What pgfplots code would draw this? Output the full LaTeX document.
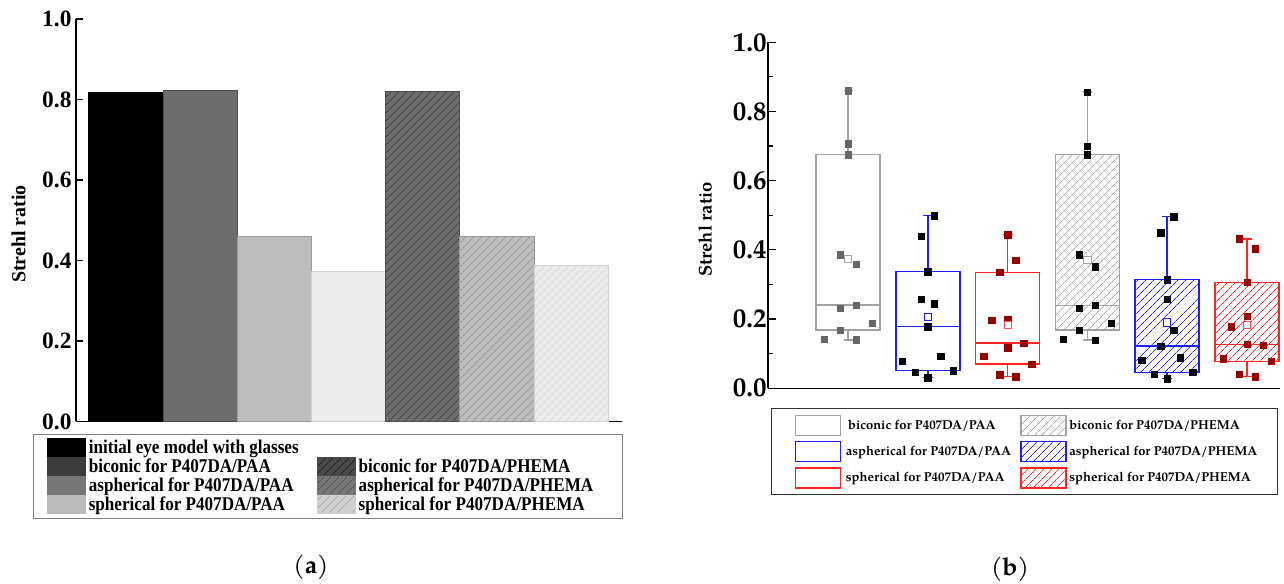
\documentclass[border=0pt]{standalone}
\usepackage{pgfplots}
\pgfplotsset{compat=1.18}
\usetikzlibrary{patterns.meta}
\usepackage{fontspec}
\setmainfont{Liberation Serif}
\newfontfamily\tnr[FakeStretch=0.88]{Liberation Serif}
\newfontfamily\pal{texgyrepagella}[Extension=.otf, UprightFont=*-regular, BoldFont=*-bold, ItalicFont=*-italic, BoldItalicFont=*-bolditalic]
% panel a colours
\definecolor{a2}{HTML}{6D6D6D}\definecolor{a2e}{HTML}{4D4D4D}
\definecolor{a3}{HTML}{BDBDBD}\definecolor{a3e}{HTML}{9A9A9A}
\definecolor{a4}{HTML}{ECECEC}\definecolor{a4e}{HTML}{D2D2D2}
\definecolor{h5}{HTML}{3A3A3A}\definecolor{h6}{HTML}{8F8F8F}\definecolor{h7}{HTML}{CFCFCF}
\definecolor{l2}{HTML}{3C3C3C}\definecolor{l3}{HTML}{777777}\definecolor{l4}{HTML}{BBBBBB}
\definecolor{l5}{HTML}{4A4A4A}\definecolor{l5h}{HTML}{1E1E1E}
\definecolor{l6h}{HTML}{4D4D4D}\definecolor{l7}{HTML}{D0D0D0}\definecolor{l7h}{HTML}{A8A8A8}
% panel b colours
\definecolor{bgray}{HTML}{A3A3A3}
\definecolor{bblue}{HTML}{1E1EFF}
\definecolor{bred}{HTML}{FF2424}
\definecolor{pred}{HTML}{990000}
\definecolor{pgray}{HTML}{666666}
\tikzset{hatchA/.style={pattern={Lines[angle=45,distance=6bp,line width=0.8bp]}},
         hatchB/.style={pattern={Lines[angle=45,distance=6bp,line width=0.7bp]}}}
% box: #1 colour, #2 extra style, #3 centre, #4 lower whisker, #5 Q1, #6 median, #7 Q3, #8 upper whisker, #9 half cap
\newcommand\boxplt[9]{%
  \addplot[draw=#1, line width=1.5bp, #2, forget plot] coordinates {(#3-32,#5) (#3+32,#5) (#3+32,#7) (#3-32,#7)} -- cycle;
  \addplot[draw=#1, line width=1.4bp, forget plot] coordinates {(#3-32,#6) (#3+32,#6)};
  \addplot[draw=#1, line width=1.5bp, forget plot] coordinates {(#3,#7) (#3,#8)};
  \addplot[draw=#1, line width=1.5bp, forget plot] coordinates {(#3-#9,#8) (#3+#9,#8)};
  \addplot[draw=#1, line width=1.5bp, forget plot] coordinates {(#3,#5) (#3,#4)};
  \addplot[draw=#1, line width=1.5bp, forget plot] coordinates {(#3-#9,#4) (#3+#9,#4)};
}
\begin{document}
\begin{tikzpicture}
\useasboundingbox (0,0) rectangle (1284bp,584bp);
% ---------------- panel (a) ----------------
\begin{axis}[
  at={(76bp,162.5bp)}, anchor=south west,
  scale only axis, width=546bp, height=402.5bp,
  xmin=0, xmax=546, ymin=0, ymax=1,
  axis x line=bottom, axis y line=left,
  axis line style={-, line width=1.3bp, black},
  xtick=\empty,
  ytick={0,0.2,0.4,0.6,0.8,1.0},
  yticklabels={0.0,0.2,0.4,0.6,0.8,1.0},
  tick align=inside, major tick length=7bp,
  tick style={line width=1.3bp, black},
  tick label style={font=\bfseries\fontsize{23.5}{23.5}\selectfont},
  yticklabel style={xshift=-1bp},
  ylabel={Strehl ratio},
  ylabel style={at={(axis description cs:-0.1053,0.466)}, anchor=center, font=\bfseries\fontsize{20}{20}\selectfont},
  clip=false,
  legend columns=2,
  legend cell align=left,
  legend image code/.code={\draw[#1] (0bp,-9bp) rectangle (38bp,9bp);},
  legend style={at={(axis description cs:-0.0788,-0.031)}, anchor=north west,
    draw=gray, line width=0.9bp, inner xsep=13.5bp, inner ysep=4bp, row sep=0bp,
    font=\tnr\bfseries\fontsize{19.5}{21}\selectfont,
    nodes={inner sep=1.5bp},
    /tikz/column 1/.style={column sep=1.5bp},
    /tikz/column 3/.style={column sep=1.5bp}},
]
\addplot[ybar, bar shift=0pt, bar width=74.2, fill=black, draw=black, line width=0.6bp, forget plot] coordinates {(49.7,0.818)};
\addplot[ybar, bar shift=0pt, bar width=74.2, fill=a2, draw=a2e, line width=0.6bp, forget plot] coordinates {(123.9,0.824)};
\addplot[ybar, bar shift=0pt, bar width=74.2, fill=a3, draw=a3e, line width=0.6bp, forget plot] coordinates {(198.1,0.460)};
\addplot[ybar, bar shift=0pt, bar width=74.2, fill=a4, draw=a4e, line width=0.6bp, forget plot] coordinates {(272.3,0.374)};
\addplot[ybar, bar shift=0pt, bar width=74.2, fill=a2, draw=a2e, line width=0.6bp, forget plot, postaction={hatchA, pattern color=h5}] coordinates {(346.5,0.820)};
\addplot[ybar, bar shift=0pt, bar width=74.2, fill=a3, draw=a3e, line width=0.6bp, forget plot, postaction={hatchA, pattern color=h6}] coordinates {(420.7,0.459)};
\addplot[ybar, bar shift=0pt, bar width=74.2, fill=a4, draw=a4e, line width=0.6bp, forget plot, postaction={hatchA, pattern color=h7}] coordinates {(494.9,0.387)};
\addlegendimage{fill=black, draw=black}
\addlegendentry{\makebox[226.5bp][l]{initial eye model with glasses}}
\addlegendimage{empty legend}
\addlegendentry{}
\addlegendimage{fill=l2, draw=l2}
\addlegendentry{\makebox[226.5bp][l]{biconic for P407DA/PAA}}
\addlegendimage{fill=l5, draw=l5, postaction={hatchA, pattern color=l5h}}
\addlegendentry{\makebox[248.5bp][l]{biconic for P407DA/PHEMA}}
\addlegendimage{fill=l3, draw=l3}
\addlegendentry{\makebox[226.5bp][l]{aspherical for P407DA/PAA}}
\addlegendimage{fill=l3, draw=l3, postaction={hatchA, pattern color=l6h}}
\addlegendentry{\makebox[248.5bp][l]{aspherical for P407DA/PHEMA}}
\addlegendimage{fill=l4, draw=l4}
\addlegendentry{\makebox[226.5bp][l]{spherical for P407DA/PAA}}
\addlegendimage{fill=l7, draw=l7, postaction={hatchA, pattern color=l7h}}
\addlegendentry{\makebox[248.5bp][l]{spherical for P407DA/PHEMA}}
\end{axis}
% ---------------- panel (b) ----------------
\begin{axis}[
  at={(768bp,195.7bp)}, anchor=south west,
  scale only axis, width=512bp, height=346bp,
  xmin=0, xmax=512, ymin=0, ymax=1,
  axis x line=bottom, axis y line=left,
  axis line style={-, line width=1.3bp, black},
  xtick=\empty,
  ytick={0,0.2,0.4,0.6,0.8,1.0},
  yticklabels={0.0,0.2,0.4,0.6,0.8,1.0},
  minor ytick={0.1,0.3,0.5,0.7,0.9},
  tick align=inside, major tick length=8bp, minor tick length=4.5bp,
  tick style={line width=1.2bp, black},
  tick label style={font=\pal\bfseries\fontsize{27}{27}\selectfont},
  yticklabel style={xshift=2bp},
  ylabel={Strehl ratio},
  ylabel style={at={(axis description cs:-0.123,0.459)}, anchor=center, font=\pal\bfseries\fontsize{18.5}{18.5}\selectfont},
  clip=false,
  legend columns=2,
  legend cell align=left,
  legend image code/.code={\draw[#1] (0bp,-10bp) rectangle (45bp,10bp);},
  legend style={at={(axis description cs:0.00586,-0.058)}, anchor=north west,
    draw=black!80, line width=0.9bp, inner xsep=23.5bp, inner ysep=5.7bp, row sep=4.8bp,
    font=\pal\bfseries\fontsize{13}{15}\selectfont,
    nodes={inner sep=1.5bp},
    /tikz/column 1/.style={column sep=3bp},
    /tikz/column 3/.style={column sep=1bp}},
]
% boxes: colour, style, centre, lower whisker, Q1, median, Q3, upper whisker, half cap
\boxplt{bgray}{}{80}{0.140}{0.168}{0.241}{0.675}{0.860}{4.5}
\boxplt{bblue}{}{159.8}{0.031}{0.051}{0.178}{0.337}{0.499}{5}
\boxplt{bred}{}{239.6}{0.034}{0.070}{0.131}{0.335}{0.444}{5}
\boxplt{bgray}{hatchB, pattern color=bgray}{319.4}{0.139}{0.168}{0.240}{0.675}{0.856}{4.5}
\boxplt{bblue}{hatchB, pattern color=bblue}{399.2}{0.028}{0.046}{0.122}{0.314}{0.496}{5}
\boxplt{bred}{hatchB, pattern color=bred}{479}{0.034}{0.078}{0.127}{0.306}{0.431}{5}
% data points
\addplot[only marks, mark=square*, mark size=3.2bp, color=pgray, forget plot] coordinates {
 (80,0.860) (80,0.707) (80,0.675) (72,0.386) (88,0.358) (72,0.232) (88,0.241) (104,0.188) (72,0.168) (56,0.142) (88,0.140)};
\addplot[only marks, mark=square*, mark size=3.2bp, color=black, forget plot] coordinates {
 (166.2,0.499) (153.4,0.439) (159.8,0.337) (153.4,0.258) (166.2,0.245) (159.8,0.178) (172.6,0.092) (134.2,0.079) (185.4,0.051) (147,0.046) (159.8,0.031)};
\addplot[only marks, mark=square*, mark size=3.2bp, color=pred, forget plot] coordinates {
 (239.6,0.444) (247.6,0.371) (231.6,0.335) (223.6,0.197) (239.6,0.200) (255.6,0.131) (239.6,0.117) (215.6,0.092) (263.6,0.070) (231.6,0.039) (247.6,0.034)};
\addplot[only marks, mark=square*, mark size=3.2bp, color=black, forget plot] coordinates {
 (319.4,0.856) (319.4,0.700) (319.4,0.675) (311.4,0.386) (327.4,0.351) (311.4,0.231) (327.4,0.240) (343.4,0.189) (311.4,0.168) (295.4,0.142) (327.4,0.139)};
\addplot[only marks, mark=square*, mark size=3.2bp, color=black, forget plot] coordinates {
 (405.6,0.496) (392.8,0.450) (399.2,0.314) (399.2,0.258) (405.6,0.168) (392.8,0.122) (412,0.088) (373.6,0.082) (424.8,0.046) (386.4,0.041) (399.2,0.028)};
\addplot[only marks, mark=square*, mark size=3.2bp, color=pred, forget plot] coordinates {
 (471,0.432) (487,0.403) (479,0.306) (479,0.208) (463,0.178) (479,0.127) (495,0.125) (455,0.085) (503,0.078) (471,0.041) (487,0.034)};
% means
\addplot[only marks, mark=square*, mark size=3.6bp, mark options={draw=bgray, fill=white, line width=1bp}, forget plot] coordinates {(80,0.373) (319.4,0.371)};
\addplot[only marks, mark=square*, mark size=3.6bp, mark options={draw=bblue, fill=white, line width=1bp}, forget plot] coordinates {(159.8,0.205) (399.2,0.190)};
\addplot[only marks, mark=square*, mark size=3.6bp, mark options={draw=bred!80, fill=white, line width=1bp}, forget plot] coordinates {(239.6,0.184) (479,0.183)};
% legend
\addlegendimage{draw=bgray, line width=1.5bp}
\addlegendentry{\makebox[173bp][l]{\,biconic for P407DA/PAA}}
\addlegendimage{draw=bgray, line width=1.5bp, hatchB, pattern color=bgray}
\addlegendentry{\makebox[183bp][l]{biconic for P407DA/PHEMA}}
\addlegendimage{draw=bblue, line width=1.5bp}
\addlegendentry{\makebox[173bp][l]{aspherical for P407DA/PAA}}
\addlegendimage{draw=bblue, line width=1.5bp, hatchB, pattern color=bblue}
\addlegendentry{\makebox[183bp][l]{aspherical for P407DA/PHEMA}}
\addlegendimage{draw=bred, line width=1.5bp}
\addlegendentry{\makebox[173bp][l]{spherical for P407DA/PAA}}
\addlegendimage{draw=bred, line width=1.5bp, hatchB, pattern color=bred}
\addlegendentry{\makebox[183bp][l]{spherical for P407DA/PHEMA}}
\end{axis}
\node[font=\pal\fontsize{25}{25}\selectfont] at (311bp,17bp) {(\textbf{a})};
\node[font=\pal\fontsize{25}{25}\selectfont] at (1010bp,15bp) {(\textbf{b})};
\end{tikzpicture}
\end{document}
